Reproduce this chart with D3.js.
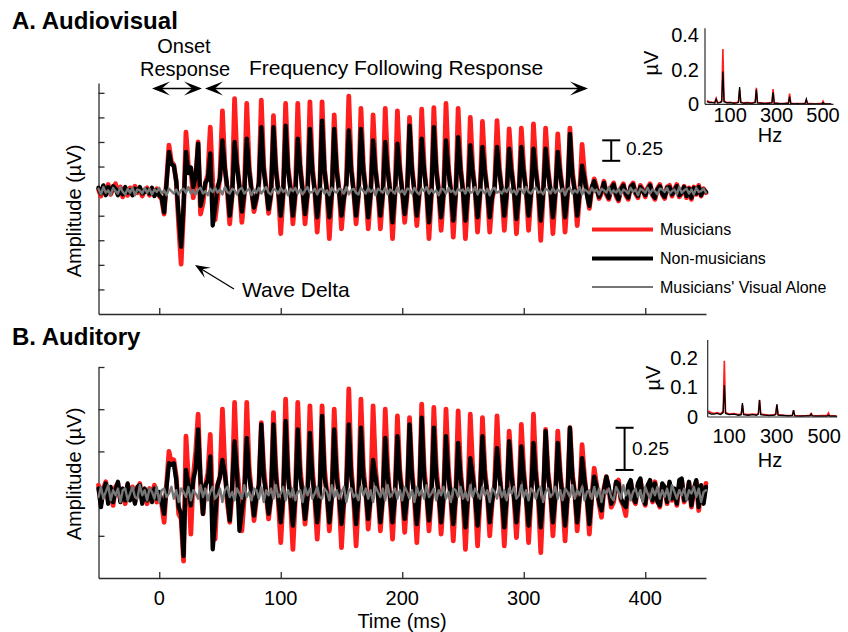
<!DOCTYPE html>
<html><head><meta charset="utf-8">
<script src="https://cdn.jsdelivr.net/npm/d3@7"></script>
<style>
body{margin:0;background:#fff}
svg{display:block}
text{font-family:"Liberation Sans",Arial,sans-serif;fill:#000}
</style>
</head><body>
<svg id="chart" width="848" height="632"></svg>
<script>
// ---------------- DATA ----------------
// Sampling of the waveforms: every 2 ms from -50 ms to 450 ms
const timeStartMs = -50;
const timeStepMs = 2;

// Panel A (Audiovisual), amplitude in µV, one row = 10 ms
const musiciansA = [
 0.02,-0.06,0.05,-0.03,0.08,  -0.04,0.03,0.09,-0.02,0.05,  -0.07,0.02,-0.05,0.04,-0.03,
 0.06,-0.02,0.03,-0.06,0.01,  0.04,-0.05,0.02,-0.04,0.03,
 -0.06,-0.1,-0.28,0.12,0.56,  0.36,0.32,0.12,-0.42,-0.89,  -0.25,0.72,0.3,0.28,-0.08,
 0.15,0.6,-0.28,-0.15,0.1,  0.2,0.78,0.1,-0.35,-0.1,  0.2,0.98,0.3,0.0,-0.4,
 -0.05,1.13,0.35,0.05,-0.38,  -0.05,1.07,0.3,0.0,-0.25,  -0.1,0.1,1.11,0.3,0.05,
 -0.27,-0.05,0.92,0.3,0.0,  -0.52,-0.05,1.07,0.3,0.05,  -0.4,-0.05,1.07,0.32,0.02,
 -0.4,-0.05,1.09,0.3,0.0,  -0.5,-0.05,1.09,0.28,0.0,  -0.58,-0.05,0.93,0.3,0.02,
 -0.46,-0.1,0.1,1.16,0.3,  0.0,-0.4,-0.05,1.01,0.3,  0.0,-0.46,-0.05,0.93,0.28,
 0.0,-0.46,-0.05,1.01,0.3,  0.0,-0.58,-0.05,0.98,0.3,  0.0,-0.38,-0.05,0.9,0.3,
 0.0,-0.42,-0.05,1.0,0.3,  0.0,-0.58,-0.05,1.02,0.3,  0.0,-0.48,-0.05,1.07,0.3,
 0.0,-0.56,-0.05,1.01,0.3,  0.0,-0.58,-0.05,0.9,0.28,  0.0,-0.5,-0.05,0.85,0.28,
 0.0,-0.5,-0.1,0.05,0.86,  0.28,0.0,-0.48,-0.05,0.76,  0.28,0.0,-0.52,-0.05,0.77,
 0.28,0.0,-0.48,-0.05,0.82,  0.28,0.0,-0.6,-0.05,0.77,  0.28,0.0,-0.52,-0.05,0.7,
 0.25,0.0,-0.5,-0.05,0.77,  0.25,0.0,-0.42,-0.05,0.57,  0.2,0.0,-0.21,0.02,0.15,
 0.05,-0.09,-0.02,0.12,-0.04,  -0.1,0.05,0.1,-0.06,-0.12,  0.04,0.09,-0.05,-0.1,0.06,
 0.1,-0.03,-0.08,0.07,0.02,  -0.07,0.04,0.09,-0.05,-0.1,  0.03,0.08,-0.04,-0.09,0.05,
 0.07,-0.06,0.02,0.08,-0.07,  -0.03,0.06,-0.08,0.04,-0.1,  0.05,-0.04,0.07,-0.06,0.03,
 -0.02
];
const nonMusiciansA = [
 0.04,-0.03,0.07,-0.05,0.05,  -0.02,0.06,0.03,-0.05,0.02,  -0.04,0.05,-0.02,0.01,-0.05,
 0.03,0.0,0.05,-0.03,-0.01,  0.02,-0.03,0.04,-0.06,0.01,
 -0.05,-0.08,-0.26,0.1,0.48,  0.33,0.31,0.12,-0.3,-0.68,  -0.18,0.48,0.22,0.29,0.05,
 0.18,0.58,-0.18,-0.05,0.1,  0.15,0.46,-0.42,-0.2,0.05,  0.15,0.62,0.28,0.05,-0.3,
 -0.05,0.6,0.3,0.05,-0.25,  -0.02,0.64,0.25,0.0,-0.2,  -0.08,0.1,0.78,0.25,0.02,
 -0.22,-0.03,0.78,0.25,0.0,  -0.3,-0.03,0.8,0.25,0.02,  -0.3,-0.03,0.64,0.28,0.0,
 -0.28,-0.03,0.76,0.25,0.0,  -0.32,-0.03,0.86,0.25,0.0,  -0.32,-0.03,0.76,0.25,0.0,
 -0.3,-0.08,0.08,0.74,0.25,  0.0,-0.3,-0.03,0.76,0.25,  0.0,-0.32,-0.03,0.62,0.25,
 0.0,-0.3,-0.03,0.6,0.25,  0.0,-0.38,-0.03,0.58,0.25,  0.0,-0.28,-0.03,0.8,0.25,
 0.0,-0.3,-0.03,0.64,0.25,  0.0,-0.38,-0.03,0.78,0.25,  0.0,-0.32,-0.03,0.62,0.25,
 0.0,-0.36,-0.03,0.66,0.25,  0.0,-0.36,-0.03,0.56,0.22,  0.0,-0.32,-0.03,0.54,0.22,
 0.0,-0.32,-0.06,0.04,0.54,  0.22,0.0,-0.3,-0.03,0.52,  0.22,0.0,-0.34,-0.03,0.54,
 0.22,0.0,-0.3,-0.03,0.52,  0.22,0.0,-0.36,-0.03,0.52,  0.22,0.0,-0.32,-0.03,0.48,
 0.2,0.0,-0.32,-0.03,0.7,  0.2,0.0,-0.3,-0.03,0.31,  0.15,-0.05,-0.18,0.05,0.12,
 0.02,-0.07,0.0,0.1,-0.02,  -0.08,0.03,0.08,-0.04,-0.1,  0.02,0.07,-0.03,-0.08,0.05,
 0.08,-0.02,-0.06,0.05,0.0,  -0.05,0.03,0.07,-0.04,-0.08,  0.02,0.06,-0.03,-0.07,0.04,
 0.05,-0.04,0.01,0.06,-0.05,  -0.02,0.05,-0.06,0.03,-0.08,  0.04,-0.03,0.05,-0.05,0.02,
 -0.01
];
const visualAloneA = [
 0.03,-0.04,0.05,-0.02,0.01,-0.05,0.04,0.00,-0.03,0.05,
 -0.01,-0.04,0.03,-0.02,0.04,-0.05,0.02,0.01,-0.03,0.04,
 -0.02,0.03,-0.04,0.02,-0.01,0.04,-0.03,0.01,-0.05,0.03,
 0.00,-0.03,0.02,-0.04,0.01,0.03,-0.02,0.05,-0.03,0.01,
 -0.04,0.02,0.04,-0.03,0.00,-0.05,0.03,-0.01,0.04,-0.02,
 0.02,-0.04,0.05,-0.01,-0.03,0.03,0.01,-0.04,0.02,0.04,
 -0.03,0.00,0.03,-0.05,0.02,-0.02,0.04,-0.03,0.01,0.05,
 -0.02,-0.04,0.03,0.01,-0.03,0.04,-0.01,0.02,-0.05,0.03,
 0.00,0.04,-0.03,0.02,-0.04,0.01,0.05,-0.02,-0.01,0.03,
 -0.04,0.02,0.03,-0.03,0.01,-0.05,0.04,0.00,-0.02,0.03,
 0.02,-0.03,0.05,-0.04,0.01,0.03,-0.02,-0.04,0.04,0.00,
 -0.03,0.04,-0.01,0.02,-0.05,0.03,0.01,-0.02,0.04,-0.04,
 0.02,0.00,-0.03,0.05,-0.02,0.01,-0.04,0.03,0.02,-0.03,
 0.04,-0.01,-0.04,0.03,0.00,0.05,-0.03,0.02,-0.02,0.01,
 -0.05,0.03,0.02,-0.03,0.04,-0.01,0.01,-0.04,0.03,0.00,
 0.02,-0.03,0.04,-0.02,-0.01,0.05,-0.04,0.02,0.01,-0.03,
 0.03,-0.05,0.02,0.04,-0.02,0.00,-0.03,0.03,-0.01,0.04,
 -0.02,0.01,-0.04,0.03,0.02,-0.03,0.05,-0.01,-0.03,0.02,
 0.04,-0.02,0.00,-0.04,0.03,0.01,-0.03,0.04,-0.02,0.02,
 -0.01,0.03,-0.05,0.02,0.04,-0.03,0.01,-0.02,0.05,-0.04,
 0.02,0.00,-0.03,0.04,-0.01,0.02,-0.04,0.03,0.01,-0.02,
 0.05,-0.03,0.01,-0.02,0.03,-0.04,0.02,0.00,-0.03,0.04,
 -0.01,0.02,-0.05,0.03,0.01,-0.02,0.04,-0.03,0.02,0.00,
 -0.04,0.03,0.02,-0.01,0.04,-0.03,0.00,0.02,-0.04,0.05,
 -0.02,0.01,0.03,-0.03,0.02,-0.04,0.04,-0.01,0.00,0.03,
 -0.02
];

// Panel B (Auditory), amplitude in µV
const musiciansB = [
 0.05,-0.06,0.03,0.07,-0.04,  0.02,-0.07,0.04,0.06,-0.03,  0.01,-0.06,0.05,-0.02,0.04,
 -0.05,0.02,0.06,-0.04,0.01,  -0.06,0.03,-0.02,0.05,-0.05,
 0.0,-0.06,-0.17,0.05,0.25,  0.18,0.2,0.1,-0.12,-0.15,  -0.4,0.34,0.08,-0.24,0.1,
 0.25,0.47,0.05,-0.12,0.05,  0.12,0.35,-0.1,-0.27,0.05,  0.1,0.5,0.15,-0.05,-0.17,
 0.0,0.54,0.15,0.0,-0.22,  -0.02,0.54,0.15,0.0,-0.16,  -0.03,0.05,0.42,0.15,0.0,
 -0.15,-0.02,0.48,0.15,-0.05,  -0.29,-0.03,0.56,0.14,-0.05,  -0.33,-0.03,0.54,0.15,0.0,
 -0.18,-0.02,0.52,0.15,-0.03,  -0.27,-0.03,0.52,0.15,0.0,  -0.22,-0.02,0.5,0.15,-0.03,
 -0.32,-0.05,0.05,0.62,0.15,  -0.03,-0.31,-0.03,0.56,0.15,  0.0,-0.21,-0.02,0.52,0.15,
 0.0,-0.22,-0.02,0.5,0.15,  -0.03,-0.27,-0.02,0.46,0.14,  0.0,-0.23,-0.02,0.45,0.14,
 -0.03,-0.29,-0.02,0.53,0.15,  0.0,-0.22,-0.02,0.51,0.15,  0.0,-0.24,-0.02,0.5,0.15,
 -0.03,-0.28,-0.02,0.49,0.14,  -0.03,-0.33,-0.03,0.47,0.14,  -0.03,-0.31,-0.03,0.45,0.14,
 0.0,-0.25,-0.05,0.05,0.46,  0.14,-0.03,-0.31,-0.03,0.37,  0.14,-0.03,-0.26,-0.02,0.41,
 0.14,-0.03,-0.29,-0.02,0.47,  0.14,-0.03,-0.35,-0.03,0.38,  0.13,0.0,-0.25,-0.02,0.37,
 0.13,-0.03,-0.28,-0.02,0.39,  0.12,0.0,-0.22,-0.02,0.29,  0.1,-0.03,-0.24,-0.02,0.15,
 0.05,-0.06,-0.14,0.03,0.1,  0.02,-0.08,-0.05,0.06,0.08,  -0.04,-0.07,-0.13,0.04,0.07,
 -0.03,-0.06,0.05,0.08,-0.02,  -0.07,0.04,0.06,-0.05,0.07,  -0.03,-0.08,0.05,0.03,-0.06,
 0.06,-0.04,0.02,-0.07,0.05,  0.08,-0.05,-0.02,0.06,-0.08,  0.03,0.07,-0.1,0.04,-0.03,
 0.06
];
const nonMusiciansB = [
 0.03,-0.08,0.02,0.06,-0.06,  0.04,-0.05,0.02,0.07,-0.05,  0.03,-0.04,0.06,-0.04,0.02,
 -0.06,0.04,0.05,-0.06,0.03,  -0.04,0.02,-0.05,0.03,-0.03,
 0.01,-0.05,-0.12,0.04,0.18,  0.17,0.18,0.08,-0.08,-0.12,  -0.37,0.14,0.05,-0.07,0.08,
 0.15,0.38,0.08,-0.12,0.05,  0.08,0.22,-0.33,-0.15,0.05,  0.1,0.2,0.12,-0.02,-0.16,
 0.05,0.31,0.12,-0.22,-0.1,  0.0,0.33,0.1,0.0,-0.13,  -0.02,0.05,0.41,0.1,0.0,
 -0.12,-0.02,0.41,0.1,-0.03,  -0.17,-0.02,0.43,0.1,-0.03,  -0.19,-0.02,0.38,0.1,0.0,
 -0.15,-0.02,0.36,0.1,-0.02,  -0.17,-0.02,0.46,0.1,0.0,  -0.17,-0.02,0.38,0.1,-0.02,
 -0.18,-0.04,0.04,0.41,0.1,  -0.02,-0.18,-0.02,0.39,0.1,  0.0,-0.15,-0.02,0.2,0.1,
 0.0,-0.17,-0.02,0.33,0.1,  -0.02,-0.17,-0.02,0.34,0.1,  0.0,-0.15,-0.02,0.41,0.1,
 -0.02,-0.18,-0.02,0.45,0.1,  0.0,-0.16,-0.02,0.39,0.1,  0.0,-0.17,-0.02,0.34,0.1,
 -0.02,-0.18,-0.02,0.3,0.1,  -0.02,-0.2,-0.02,0.21,0.1,  -0.02,-0.19,-0.02,0.34,0.1,
 0.0,-0.17,-0.04,0.04,0.27,  0.1,-0.02,-0.2,-0.02,0.31,  0.1,-0.02,-0.17,-0.02,0.28,
 0.1,-0.02,-0.19,-0.02,0.3,  0.1,-0.02,-0.2,-0.02,0.37,  0.1,0.0,-0.17,-0.02,0.3,
 0.1,-0.02,-0.19,-0.02,0.39,  0.1,0.0,-0.17,-0.02,0.21,  0.08,-0.02,-0.18,-0.02,0.1,
 0.04,-0.05,-0.1,0.02,0.1,  0.04,-0.06,-0.03,0.07,0.06,  -0.03,-0.06,-0.08,0.05,0.08,
 -0.02,-0.05,0.06,0.09,-0.03,  -0.06,0.05,0.08,-0.04,0.06,  -0.05,-0.07,0.06,0.04,-0.05,
 0.07,-0.03,0.03,-0.06,0.08,  0.09,-0.04,-0.03,0.07,-0.07,  0.02,0.08,-0.08,0.05,-0.06,
 0.04
];
const visualAloneB = [
 -0.02,0.04,-0.03,0.01,0.05,-0.04,0.02,-0.01,0.03,-0.05,
 0.02,0.03,-0.04,0.00,0.04,-0.02,-0.03,0.05,-0.01,0.02,
 -0.04,0.03,0.01,-0.03,0.04,-0.05,0.02,0.03,-0.02,0.00,
 0.04,-0.03,0.02,-0.05,0.03,0.01,-0.02,0.04,-0.04,0.02,
 0.00,-0.03,0.05,-0.02,0.03,-0.04,0.01,0.04,-0.03,-0.01,
 0.03,-0.05,0.02,0.04,-0.02,0.01,-0.04,0.03,0.00,-0.03,
 0.05,-0.02,0.01,-0.04,0.03,0.02,-0.03,0.04,-0.05,0.02,
 -0.01,0.03,-0.03,0.05,-0.02,0.00,0.04,-0.04,0.02,-0.02,
 0.03,-0.04,0.01,0.02,-0.05,0.04,-0.01,0.03,-0.03,0.00,
 0.04,-0.02,-0.03,0.03,0.01,-0.04,0.05,-0.02,0.02,-0.03,
 0.01,0.04,-0.05,0.02,0.03,-0.02,0.00,-0.04,0.04,-0.01,
 0.03,-0.03,0.02,-0.05,0.04,0.01,-0.02,0.03,-0.04,0.05,
 -0.02,0.00,0.03,-0.03,0.02,-0.04,0.04,0.01,-0.03,0.02,
 -0.05,0.04,-0.01,0.02,-0.03,0.05,-0.02,0.00,0.03,-0.04,
 0.02,-0.01,0.04,-0.03,0.01,-0.05,0.03,0.02,-0.02,0.04,
 -0.03,0.01,-0.04,0.05,-0.02,0.03,0.00,-0.03,0.04,-0.01,
 0.02,-0.05,0.03,0.01,-0.03,0.04,-0.02,0.02,-0.04,0.03,
 0.00,0.04,-0.03,-0.01,0.05,-0.02,0.02,-0.04,0.03,0.01,
 -0.03,0.02,0.04,-0.05,0.01,0.03,-0.02,0.00,0.04,-0.03,
 0.02,-0.04,0.03,0.01,-0.02,0.05,-0.03,0.02,-0.01,0.04,
 -0.04,0.01,0.02,-0.03,0.04,-0.02,0.03,-0.05,0.02,0.00,
 0.03,-0.02,-0.04,0.04,0.01,-0.03,0.05,-0.01,0.02,-0.04,
 0.01,0.03,-0.02,0.02,-0.05,0.04,0.00,-0.03,0.03,-0.01,
 0.04,-0.03,0.02,-0.02,0.03,-0.04,0.05,0.01,-0.03,0.02,
 -0.01,0.03,-0.04,0.02,0.00,0.04,-0.02,0.03,-0.05,0.01,
 0.02
];

// Spectra (insets): frequency in Hz, amplitude in µV
const specFreqA = [0,12,24,34,40,46,56,64,69,74,86,100,116,130,136,141,146,160,176,192,208,213,218,234,250,266,280,285,290,306,322,338,351,356,361,376,392,408,423,428,433,450,466,482,495,500,505,520,535];
const specMusA = [0.02,0.015,0.012,0.01,0.035,0.01,0.012,0.02,0.32,0.02,0.01,0.012,0.008,0.01,0.015,0.085,0.012,0.008,0.01,0.007,0.012,0.095,0.01,0.008,0.006,0.008,0.01,0.088,0.008,0.006,0.005,0.006,0.008,0.062,0.006,0.004,0.005,0.004,0.006,0.025,0.005,0.004,0.003,0.004,0.004,0.018,0.004,0.003,0.003];
const specNonA = [0.015,0.01,0.01,0.008,0.03,0.008,0.01,0.015,0.19,0.015,0.008,0.01,0.006,0.008,0.012,0.1,0.01,0.006,0.008,0.005,0.01,0.085,0.008,0.006,0.005,0.006,0.008,0.07,0.006,0.005,0.004,0.005,0.006,0.045,0.005,0.003,0.004,0.003,0.005,0.03,0.004,0.003,0.003,0.003,0.003,0.01,0.003,0.002,0.002];
const specFreqB = [12,24,36,50,64,75,80,85,100,120,140,151,156,161,180,200,215,223,228,233,250,270,290,296,301,306,330,350,366,371,376,400,425,440,445,450,470,495,513,518,523,540,553];
const specMusB = [0.02,0.015,0.012,0.015,0.01,0.02,0.19,0.015,0.01,0.012,0.008,0.01,0.04,0.01,0.008,0.01,0.008,0.012,0.058,0.01,0.008,0.006,0.008,0.01,0.042,0.008,0.006,0.005,0.006,0.022,0.005,0.004,0.005,0.006,0.012,0.005,0.004,0.005,0.006,0.014,0.004,0.004,0.003];
const specNonB = [0.015,0.01,0.01,0.012,0.008,0.015,0.107,0.012,0.008,0.01,0.006,0.008,0.047,0.008,0.006,0.008,0.006,0.01,0.057,0.008,0.006,0.005,0.006,0.008,0.043,0.006,0.005,0.004,0.005,0.023,0.004,0.003,0.004,0.004,0.01,0.004,0.003,0.003,0.003,0.006,0.003,0.003,0.002];

// Axis ticks and labels
const timeTicks = [0, 100, 200, 300, 400];
const ampTicksA = [-1.2, -0.9, -0.6, -0.3, 0, 0.3, 0.6, 0.9, 1.2];
const ampTicksB = [-0.25, 0, 0.25, 0.5, 0.75];
const insetTicksYA = [0, 0.2, 0.4];
const insetTicksYB = [0, 0.1, 0.2];
const insetTicksX = [100, 300, 500];
const legendLabels = ["Musicians", "Non-musicians", "Musicians' Visual Alone"];
const scaleBarValue = 0.25;

// ---------------- DRAWING ----------------
const COLORS = {mus: "#ff1f1f", non: "#000000", vis: "#767676"};
const svg = d3.select("#chart");
const timeMs = musiciansA.map((_, i) => timeStartMs + i * timeStepMs);

const x = d3.scaleLinear().domain([-50, 450]).range([98.5, 706]);
const yA = d3.scaleLinear().domain([-1.5, 1.32]).range([314, 83]);
const yB = d3.scaleLinear().domain([-0.5, 0.75]).range([578, 367]);

const axisColor = "#2b2b2b";

function drawAxes(y, yTicks, showLabels) {
  const gy = svg.append("g").attr("transform", `translate(${x.range()[0]},0)`)
    .call(d3.axisLeft(y).tickValues(yTicks).tickSizeInner(-6).tickSizeOuter(0).tickFormat(""));
  const gx = svg.append("g").attr("transform", `translate(0,${y.range()[0]})`)
    .call(d3.axisBottom(x).tickValues(timeTicks).tickSizeInner(-6).tickSizeOuter(0).tickFormat(""));
  [gy, gx].forEach(g => {
    g.selectAll("path,line").attr("stroke", axisColor).attr("stroke-width", 1.3);
  });
  if (showLabels) {
    svg.append("g").selectAll("text").data(timeTicks).join("text")
      .attr("x", d => x(d)).attr("y", y.range()[0] + 27)
      .attr("text-anchor", "middle").attr("font-size", 20).text(d => d);
  }
}

function drawTraces(y, mus, non, vis) {
  const line = d3.line().x((d, i) => x(timeMs[i])).y(d => y(d));
  const g = svg.append("g").attr("fill", "none").attr("stroke-linejoin", "round").attr("stroke-linecap", "round");
  g.append("path").attr("d", line(mus)).attr("stroke", COLORS.mus).attr("stroke-width", 4.8);
  g.append("path").attr("d", line(non)).attr("stroke", COLORS.non).attr("stroke-width", 4.3);
  g.append("path").attr("d", line(vis)).attr("stroke", COLORS.vis).attr("stroke-width", 2.4);
}

function arrowHead(tx, ty, dx, dy, L, w) {
  const n = Math.hypot(dx, dy); dx /= n; dy /= n;
  const px = -dy, py = dx;
  const bx = tx - L * dx, by = ty - L * dy;
  const nx = tx - 0.55 * L * dx, ny = ty - 0.55 * L * dy;
  svg.append("path")
    .attr("d", `M${tx},${ty}L${bx + w * px},${by + w * py}L${nx},${ny}L${bx - w * px},${by - w * py}Z`)
    .attr("fill", "#000");
}

function scaleBar(y, t, v0, labelX, labelY) {
  const xb = x(t);
  const y0 = y(v0), y1 = y(v0 + scaleBarValue);
  const g = svg.append("g").attr("stroke", "#000").attr("stroke-width", 2);
  g.append("line").attr("x1", xb).attr("x2", xb).attr("y1", y0).attr("y2", y1);
  g.append("line").attr("x1", xb - 9).attr("x2", xb + 9).attr("y1", y0).attr("y2", y0);
  g.append("line").attr("x1", xb - 9).attr("x2", xb + 9).attr("y1", y1).attr("y2", y1);
  svg.append("text").attr("x", labelX).attr("y", labelY).attr("font-size", 19).text(String(scaleBarValue));
}

function drawInset(xs, ys, yTicks, freq, mus, non, labelYX, muX, muY, xLabelY, hzY) {
  const line = d3.line().x((d, i) => xs(freq[i])).y(d => ys(d));
  svg.append("path").attr("d", line(mus)).attr("fill", "none").attr("stroke", COLORS.mus).attr("stroke-width", 1.6);
  svg.append("path").attr("d", line(non)).attr("fill", "none").attr("stroke", COLORS.non).attr("stroke-width", 1.3);
  const x0 = xs.range()[0], y0 = ys.range()[0];
  svg.append("line").attr("x1", x0).attr("x2", x0).attr("y1", y0).attr("y2", ys.range()[1]).attr("stroke", axisColor).attr("stroke-width", 1.2);
  svg.append("line").attr("x1", x0).attr("x2", xs.range()[1]).attr("y1", y0).attr("y2", y0).attr("stroke", axisColor).attr("stroke-width", 1.2);
  svg.append("g").selectAll("text").data(yTicks).join("text")
    .attr("x", labelYX).attr("y", d => ys(d) + 7).attr("text-anchor", "end").attr("font-size", 20).text(d => d);
  svg.append("g").selectAll("text").data(insetTicksX).join("text")
    .attr("x", d => xs(d)).attr("y", xLabelY).attr("text-anchor", "middle").attr("font-size", 20).text(d => d);
  svg.append("text").attr("transform", `translate(${muX},${muY}) rotate(-90)`)
    .attr("text-anchor", "middle").attr("font-size", 20).text("µV");
  svg.append("text").attr("x", 770).attr("y", hzY).attr("text-anchor", "middle").attr("font-size", 20).text("Hz");
}

// Panel A
drawAxes(yA, ampTicksA, false);
drawTraces(yA, musiciansA, nonMusiciansA, visualAloneA);
// Panel B
drawAxes(yB, ampTicksB, true);
drawTraces(yB, musiciansB, nonMusiciansB, visualAloneB);

// Titles
svg.append("text").attr("x", 12).attr("y", 29).attr("font-size", 24).attr("font-weight", "bold").text("A. Audiovisual");
svg.append("text").attr("x", 12).attr("y", 345).attr("font-size", 24).attr("font-weight", "bold").text("B. Auditory");

// Y labels
svg.append("text").attr("transform", "translate(81,211) rotate(-90)").attr("text-anchor", "middle").attr("font-size", 20).text("Amplitude (µV)");
svg.append("text").attr("transform", "translate(81,474) rotate(-90)").attr("text-anchor", "middle").attr("font-size", 20).text("Amplitude (µV)");
// X label
svg.append("text").attr("x", 402).attr("y", 628).attr("text-anchor", "middle").attr("font-size", 20).text("Time (ms)");

// Annotations: onset / FFR arrows
svg.append("text").attr("x", 184).attr("y", 52.5).attr("text-anchor", "middle").attr("font-size", 20).text("Onset");
svg.append("text").attr("x", 185).attr("y", 75.5).attr("text-anchor", "middle").attr("font-size", 20).text("Response");
svg.append("text").attr("x", 396).attr("y", 75).attr("text-anchor", "middle").attr("font-size", 21).text("Frequency Following Response");
const arrowY = 88.5;
svg.append("line").attr("x1", 155).attr("x2", 199).attr("y1", arrowY).attr("y2", arrowY).attr("stroke", "#000").attr("stroke-width", 1.3);
arrowHead(152, arrowY, -1, 0, 18, 7);
arrowHead(202, arrowY, 1, 0, 18, 7);
svg.append("line").attr("x1", 208).attr("x2", 585).attr("y1", arrowY).attr("y2", arrowY).attr("stroke", "#000").attr("stroke-width", 1.3);
arrowHead(205, arrowY, -1, 0, 18, 7);
arrowHead(588, arrowY, 1, 0, 18, 7);

// Wave Delta
svg.append("text").attr("x", 242).attr("y", 297).attr("font-size", 21).text("Wave Delta");
svg.append("line").attr("x1", 234).attr("y1", 289).attr("x2", 198).attr("y2", 267).attr("stroke", "#000").attr("stroke-width", 1.3);
arrowHead(195, 265, -38, -23, 15, 6);

// Scale bars
scaleBar(yA, 372, 0.37, 626, 155);
scaleBar(yB, 383, 0.14, 632, 455);

// Legend
const legendColors = [COLORS.mus, COLORS.non, COLORS.vis];
const legendWidths = [4, 4, 2];
const legendY = [229.5, 258.5, 287];
legendLabels.forEach((lab, i) => {
  svg.append("line").attr("x1", 592).attr("x2", 653).attr("y1", legendY[i]).attr("y2", legendY[i])
    .attr("stroke", legendColors[i]).attr("stroke-width", legendWidths[i]);
  svg.append("text").attr("x", 660).attr("y", legendY[i] + 5.5).attr("font-size", 16).text(lab);
});

// Insets
const xInsetA = d3.scaleLinear().domain([-8, 545]).range([705, 833.5]);
const yInsetA = d3.scaleLinear().domain([0, 0.44]).range([104.3, 28.3]);
drawInset(xInsetA, yInsetA, insetTicksYA, specFreqA, specMusA, specNonA, 699, 658, 63, 122, 142);
const xInsetB = d3.scaleLinear().domain([10, 555]).range([707.7, 837.3]);
const yInsetB = d3.scaleLinear().domain([0, 0.26]).range([417, 340]);
drawInset(xInsetB, yInsetB, insetTicksYB, specFreqB, specMusB, specNonB, 698, 660, 378, 443, 467);
</script>
</body></html>
